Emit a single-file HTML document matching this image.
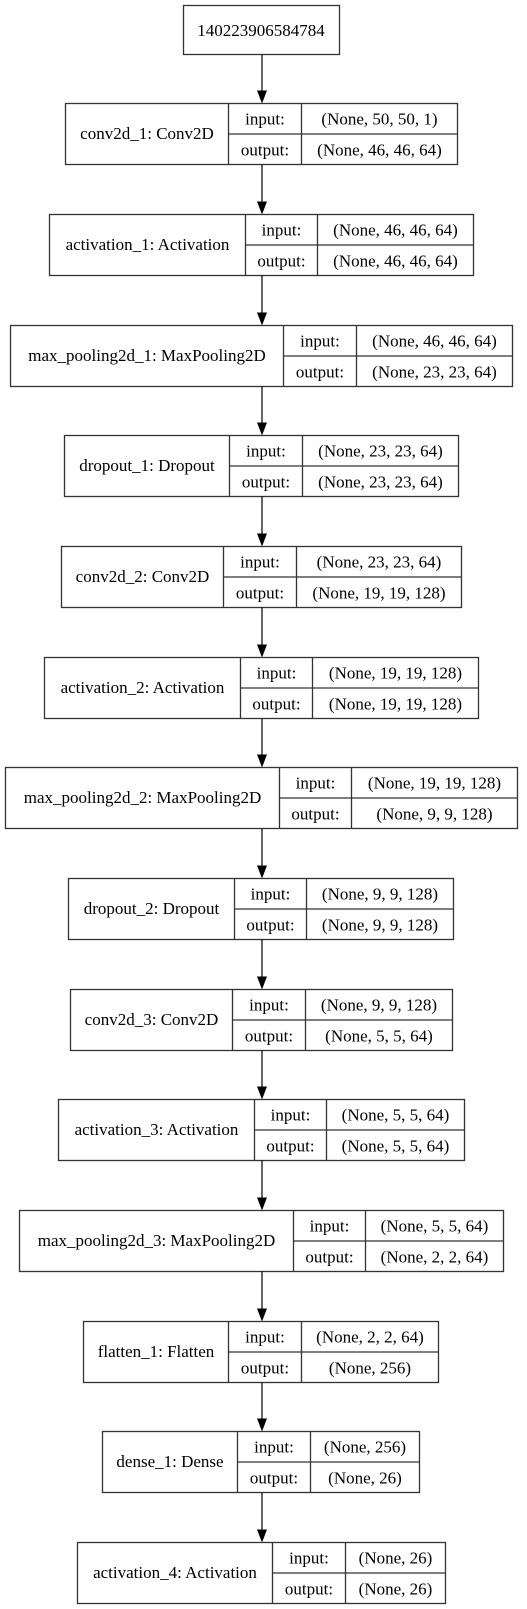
<!DOCTYPE html>
<html><head><meta charset="utf-8"><style>
html,body{margin:0;padding:0;background:#fff;}
svg{display:block;}
text{font-family:"Liberation Serif",serif;font-size:17px;fill:#000;text-anchor:middle;}
</style></head><body>
<svg width="527" height="1609" viewBox="0 0 527 1609" xmlns="http://www.w3.org/2000/svg">
<g fill="none" stroke="#333" stroke-width="1.3">
<rect x="183.5" y="5.5" width="156" height="49"/>
</g>
<text x="261" y="36">140223906584784</text>
<g id="nodes"></g>
</svg>
<script>
var N=[
[103,65,228,301,457,"conv2d_1: Conv2D","(None, 50, 50, 1)","(None, 46, 46, 64)"],
[214,49,245,317,473,"activation_1: Activation","(None, 46, 46, 64)","(None, 46, 46, 64)"],
[325,10,283,356,512,"max_pooling2d_1: MaxPooling2D","(None, 46, 46, 64)","(None, 23, 23, 64)"],
[435,64,229,302,458,"dropout_1: Dropout","(None, 23, 23, 64)","(None, 23, 23, 64)"],
[546,61,223,296,461,"conv2d_2: Conv2D","(None, 23, 23, 64)","(None, 19, 19, 128)"],
[657,44,240,312,478,"activation_2: Activation","(None, 19, 19, 128)","(None, 19, 19, 128)"],
[767,5,279,351,517,"max_pooling2d_2: MaxPooling2D","(None, 19, 19, 128)","(None, 9, 9, 128)"],
[878,68,234,306,453,"dropout_2: Dropout","(None, 9, 9, 128)","(None, 9, 9, 128)"],
[989,70,232,305,452,"conv2d_3: Conv2D","(None, 9, 9, 128)","(None, 5, 5, 64)"],
[1099,58,254,326,464,"activation_3: Activation","(None, 5, 5, 64)","(None, 5, 5, 64)"],
[1210,19,293,365,503,"max_pooling2d_3: MaxPooling2D","(None, 5, 5, 64)","(None, 2, 2, 64)"],
[1321,83,228,301,438,"flatten_1: Flatten","(None, 2, 2, 64)","(None, 256)"],
[1431,102,237,310,419,"dense_1: Dense","(None, 256)","(None, 26)"],
[1542,77,272,345,445,"activation_4: Activation","(None, 26)","(None, 26)"]];
var s='',prev=54.5;
N.forEach(function(n){
var t=n[0]+.5,h=61,x0=n[1]+.5,d1=n[2]+.5,d2=n[3]+.5,x1=n[4]+.5,m=t+h/2;
s+='<line x1="262" y1="'+prev+'" x2="262" y2="'+(t-13)+'" stroke="#000" stroke-width="1.2"/>';
s+='<polygon points="257,'+(t-13)+' 267,'+(t-13)+' 262,'+t+'" fill="#000"/>';
s+='<rect x="'+x0+'" y="'+t+'" width="'+(x1-x0)+'" height="'+h+'" fill="none" stroke="#333" stroke-width="1.3"/>';
s+='<line x1="'+d1+'" y1="'+t+'" x2="'+d1+'" y2="'+(t+h)+'" stroke="#333" stroke-width="1.3"/>';
s+='<line x1="'+d2+'" y1="'+t+'" x2="'+d2+'" y2="'+(t+h)+'" stroke="#333" stroke-width="1.3"/>';
s+='<line x1="'+d1+'" y1="'+m+'" x2="'+x1+'" y2="'+m+'" stroke="#333" stroke-width="1.3"/>';
s+='<text x="'+((x0+d1)/2)+'" y="'+(m+5)+'">'+n[5]+'</text>';
s+='<text x="'+((d1+d2)/2)+'" y="'+(t+21)+'">input:</text>';
s+='<text x="'+((d1+d2)/2)+'" y="'+(t+52)+'">output:</text>';
s+='<text x="'+((d2+x1)/2)+'" y="'+(t+21)+'">'+n[6]+'</text>';
s+='<text x="'+((d2+x1)/2)+'" y="'+(t+52)+'">'+n[7]+'</text>';
prev=t+h;
});
document.getElementById('nodes').innerHTML=s;
</script>
</body></html>
